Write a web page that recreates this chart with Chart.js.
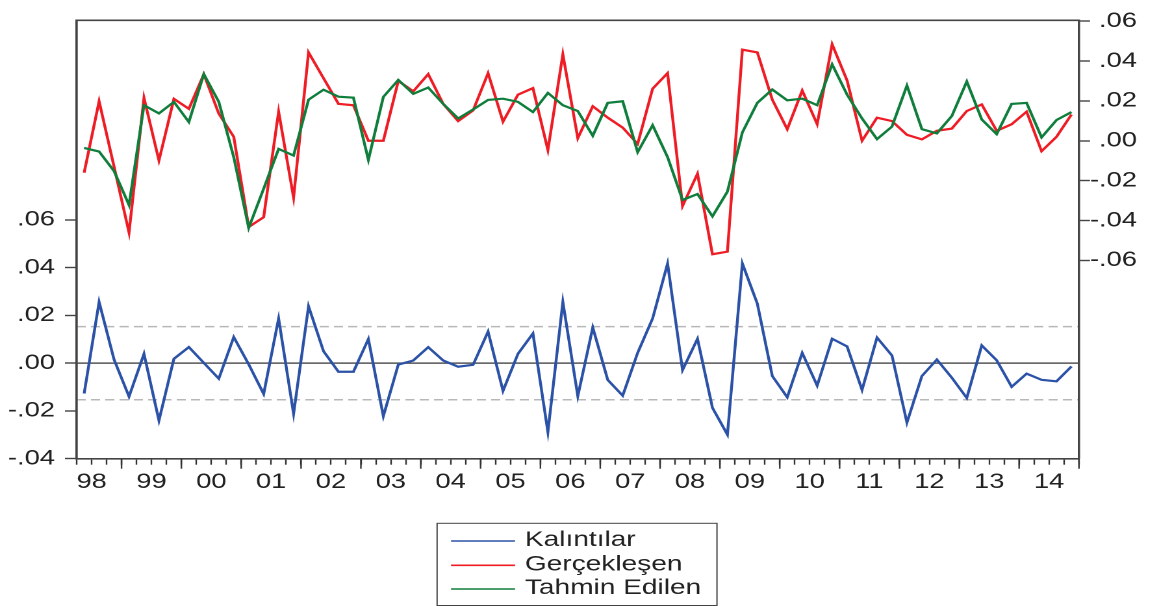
<!DOCTYPE html>
<html>
<head>
<meta charset="utf-8">
<script src="https://cdn.jsdelivr.net/npm/chart.js@4"></script>
<style>
  html, body { margin: 0; padding: 0; background: #fff; }
</style>
</head>
<body>
<canvas id="chart" width="892" height="606" style="display:block;width:1159px;height:606px"></canvas>
<script>
// Çeyreklik veriler: 1998Q2 - 2014Q4
const years = ['98','99','00','01','02','03','04','05','06','07','08','09','10','11','12','13','14'];
const quarters = [];
years.forEach(y => ['Q1','Q2','Q3','Q4'].forEach(q => quarters.push(y + q)));
quarters.shift(); // seri 98Q2 ile başlıyor

const residuals = [
  -0.0127, 0.0256, 0.0015, -0.0140, 0.0039, -0.0240, 0.0018, 0.0067, 0.0001, -0.0065,
  0.0109, -0.0005, -0.0129, 0.0187, -0.0212, 0.0238, 0.0050, -0.0036, -0.0036, 0.0101,
  -0.0222, -0.0006, 0.0011, 0.0067, 0.0011, -0.0015, -0.0007, 0.0132, -0.0116, 0.0039,
  0.0124, -0.0288, 0.0256, -0.0138, 0.0149, -0.0070, -0.0136, 0.0043, 0.0187, 0.0417,
  -0.0029, 0.0102, -0.0187, -0.0299, 0.0417, 0.0249, -0.0054, -0.0143, 0.0043, -0.0094,
  0.0102, 0.0070, -0.0112, 0.0107, 0.0032, -0.0249, -0.0054, 0.0015, -0.0061, -0.0146,
  0.0074, 0.0012, -0.0099, -0.0044, -0.0070, -0.0076, -0.0014
];
const actual = [
  -0.0160, 0.0198, -0.0130, -0.0460, 0.0215, -0.0099, 0.0210, 0.0160, 0.0334, 0.0136,
  0.0020, -0.0432, -0.0383, 0.0146, -0.0285, 0.0443, 0.0314, 0.0185, 0.0178, 0.0000,
  0.0000, 0.0300, 0.0248, 0.0334, 0.0185, 0.0099, 0.0152, 0.0339, 0.0096, 0.0231,
  0.0264, -0.0046, 0.0433, 0.0013, 0.0173, 0.0116, 0.0066, -0.0016, 0.0261, 0.0339,
  -0.0327, -0.0165, -0.0569, -0.0556, 0.0457, 0.0443, 0.0206, 0.0058, 0.0252, 0.0083,
  0.0484, 0.0302, 0.0000, 0.0116, 0.0099, 0.0030, 0.0007, 0.0050, 0.0061, 0.0149,
  0.0182, 0.0050, 0.0083, 0.0146, -0.0052, 0.0020, 0.0132
];
const fitted = [
  -0.0036, -0.0054, -0.0152, -0.0322, 0.0178, 0.0137, 0.0195, 0.0094, 0.0334, 0.0195,
  -0.0082, -0.0437, -0.0240, -0.0041, -0.0074, 0.0206, 0.0256, 0.0221, 0.0216, -0.0096,
  0.0220, 0.0305, 0.0235, 0.0267, 0.0185, 0.0112, 0.0157, 0.0205, 0.0211, 0.0195,
  0.0144, 0.0240, 0.0178, 0.0149, 0.0025, 0.0190, 0.0198, -0.0057, 0.0078, -0.0082,
  -0.0297, -0.0267, -0.0379, -0.0255, 0.0042, 0.0190, 0.0257, 0.0203, 0.0211, 0.0178,
  0.0383, 0.0231, 0.0112, 0.0008, 0.0071, 0.0277, 0.0058, 0.0037, 0.0124, 0.0297,
  0.0107, 0.0033, 0.0185, 0.0190, 0.0017, 0.0104, 0.0144
];

const residTicks = [-0.04, -0.02, 0, 0.02, 0.04, 0.06];
const actualTicks = [-0.06, -0.04, -0.02, 0, 0.02, 0.04, 0.06];
const residBand = 0.0153; // ±1 standart hata

const FONT = "'Liberation Sans', Arial, sans-serif";
const fmt = v => v.toFixed(2).replace('0.', '.');

// Çerçeve, sıfır çizgisi, kesikli bantlar, büyük tik işaretleri ve lejant
const decorations = {
  id: 'decorations',
  beforeDatasetsDraw(chart) {
    const { ctx, chartArea: a } = chart;
    const y = chart.scales.yRes;
    ctx.save();
    ctx.strokeStyle = '#b8b8b8';
    ctx.lineWidth = 1.5;
    ctx.setLineDash([7, 4]);
    [residBand, -residBand].forEach(v => {
      const p = y.getPixelForValue(v);
      ctx.beginPath(); ctx.moveTo(a.left, p); ctx.lineTo(a.right, p); ctx.stroke();
    });
    ctx.setLineDash([]);
    ctx.strokeStyle = '#555';
    ctx.lineWidth = 1.4;
    const z = y.getPixelForValue(0);
    ctx.beginPath(); ctx.moveTo(a.left, z); ctx.lineTo(a.right, z); ctx.stroke();
    ctx.restore();
  },
  afterDraw(chart) {
    const { ctx, chartArea: a } = chart;
    ctx.save();
    // çerçeve
    ctx.strokeStyle = '#444';
    ctx.lineWidth = 1.6;
    ctx.beginPath();
    ctx.moveTo(a.left, a.bottom); ctx.lineTo(a.left, a.top);
    ctx.lineTo(a.right, a.top); ctx.lineTo(a.right, a.bottom);
    ctx.stroke();
    // yıl başlarında uzun tikler
    const slot = (a.right - a.left) / quarters.length;
    ctx.strokeStyle = '#333';
    ctx.lineWidth = 1.2;
    for (let b = 0; b <= quarters.length; b++) {
      if (b === quarters.length || quarters[b].endsWith('Q1')) {
        const px = a.left + b * slot;
        ctx.beginPath(); ctx.moveTo(px, a.bottom); ctx.lineTo(px, a.bottom + 10); ctx.stroke();
      }
    }
    // lejant
    const box = { left: 336.4, top: 523.3, right: 551.8, bottom: 605.5 };
    ctx.strokeStyle = '#444';
    ctx.lineWidth = 1;
    ctx.strokeRect(box.left, box.top, box.right - box.left, box.bottom - box.top);
    const rows = [541, 565.3, 589];
    ctx.font = `21.6px ${FONT}`;
    ctx.textBaseline = 'middle';
    ctx.fillStyle = '#222';
    chart.data.datasets.forEach((ds, i) => {
      ctx.strokeStyle = ds.borderColor;
      ctx.lineWidth = 1.6;
      ctx.beginPath(); ctx.moveTo(347.1, rows[i]); ctx.lineTo(396.4, rows[i]); ctx.stroke();
      ctx.fillText(ds.label, 404, rows[i] - 1);
    });
    ctx.restore();
  }
};

const ctx = document.getElementById('chart').getContext('2d');
new Chart(ctx, {
  type: 'line',
  data: {
    labels: quarters,
    datasets: [
      { label: 'Kalıntılar', data: residuals, yAxisID: 'yRes', borderColor: '#2b52a6', order: 2 },
      { label: 'Gerçekleşen', data: actual, yAxisID: 'yAct', borderColor: '#ee1c25', order: 1 },
      { label: 'Tahmin Edilen', data: fitted, yAxisID: 'yAct', borderColor: '#0f7d3b', order: 0 }
    ]
  },
  options: {
    responsive: false,
    devicePixelRatio: 2,
    animation: false,
    layout: { padding: { top: 14.7, right: 17, bottom: 0, left: 0 } },
    elements: {
      line: { borderWidth: 2.2, tension: 0, fill: false },
      point: { radius: 0 }
    },
    plugins: { legend: { display: false }, tooltip: { enabled: false } },
    scales: {
      x: {
        type: 'category',
        offset: true,
        grid: { offset: true, drawOnChartArea: false, tickLength: 6, tickColor: '#333', tickWidth: 1.2 },
        border: { display: true, color: '#444', width: 1.6 },
        ticks: {
          autoSkip: false,
          maxRotation: 0,
          padding: 5,
          labelOffset: -5.76,
          color: '#222',
          font: { family: FONT, size: 21 },
          callback: function (v) {
            const q = this.getLabelForValue(v);
            return q.endsWith('Q3') ? q.slice(0, 2) : '';
          }
        },
        afterFit: s => { s.height = 147.3; }
      },
      yRes: {
        position: 'left',
        min: -0.04,
        max: 0.1435,
        afterBuildTicks: s => { s.ticks = residTicks.map(v => ({ value: v })); },
        grid: { drawOnChartArea: false, tickLength: 9, tickColor: '#444', tickWidth: 1.4 },
        border: { display: true, color: '#444', width: 1.6 },
        ticks: { padding: 7.7, color: '#222', font: { family: FONT, size: 21 }, callback: v => fmt(v) },
        afterFit: s => { s.width = 59; }
      },
      yAct: {
        position: 'right',
        min: -0.1594,
        max: 0.0604,
        afterBuildTicks: s => { s.ticks = actualTicks.map(v => ({ value: v })); },
        grid: { drawOnChartArea: false, tickLength: 8.5, tickColor: '#444', tickWidth: 1.4 },
        border: { display: true, color: '#444', width: 1.6 },
        ticks: { crossAlign: 'far', color: '#222', font: { family: FONT, size: 21 }, callback: v => fmt(v) },
        afterFit: s => { s.width = 44.6; }
      }
    }
  },
  plugins: [decorations]
});
</script>
</body>
</html>
